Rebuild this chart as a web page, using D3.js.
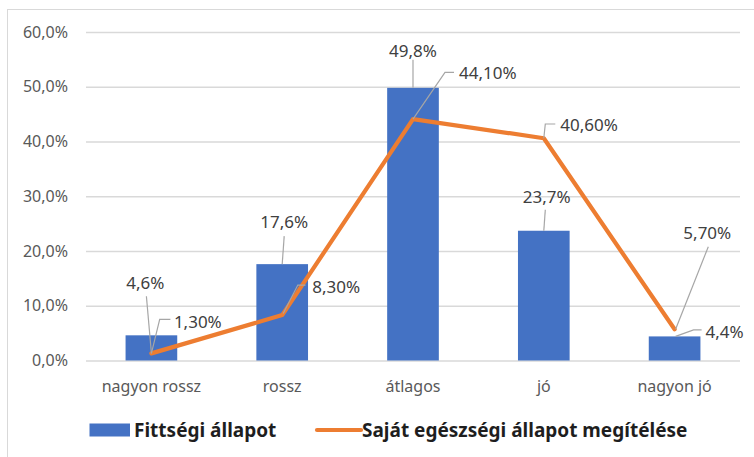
<!DOCTYPE html>
<html>
<head>
<meta charset="utf-8">
<script src="https://cdn.jsdelivr.net/npm/d3@7"></script>
<style>
  html, body { margin: 0; padding: 0; background: #fff; }
  svg { display: block; }
</style>
</head>
<body>
<svg id="chart" width="754" height="457"></svg>
<script>
// ---- data ----
const categories = ["nagyon rossz", "rossz", "átlagos", "jó", "nagyon jó"];
const barName = "Fittségi állapot";
const lineName = "Saját egészségi állapot megítélése";
const barValues = [4.6, 17.6, 49.8, 23.7, 4.4];
const lineValues = [1.3, 8.3, 44.1, 40.6, 5.7];
const barLabels = ["4,6%", "17,6%", "49,8%", "23,7%", "4,4%"];
const lineLabels = ["1,30%", "8,30%", "44,10%", "40,60%", "5,70%"];
const yTicks = [0, 10, 20, 30, 40, 50, 60];

// ---- label placement (offsets from the data point, pixels) ----
const barLabelPos = [
  { dx: -6, dy: -52, anchor: "middle", leader: [[-5, -39], [0, 18]] },
  { dx: 2, dy: -42, anchor: "middle", leader: [[2, -28], [0, 0]] },
  { dx: 0, dy: -37, anchor: "middle", leader: [[0, -28], [0, 0]] },
  { dx: 3, dy: -34, anchor: "middle", leader: [[1.5, -21], [0, 0]] },
  { dx: 31, dy: -4.5, anchor: "start", leader: [[27, -6.5], [19, -6.5], [1, 0]] }
];
const lineLabelPos = [
  { dx: 22.5, dy: -31.5, anchor: "start", leader: [[19, -34], [8.3, -34], [0, 0]] },
  { dx: 30, dy: -28.5, anchor: "start", leader: [[23.3, -30], [15.6, -30], [1, -1.5]] },
  { dx: 46, dy: -45.7, anchor: "start", leader: [[41, -46.7], [32, -46.7], [0, 0]] },
  { dx: 16.5, dy: -13.2, anchor: "start", leader: [[11.5, -14.2], [1.5, -14.2], [0, 0]] },
  { dx: 32.7, dy: -96.3, anchor: "middle", leader: [[33.7, -82.6], [1, 0]] }
];

const svg = d3.select("#chart");

// outer frame
svg.append("rect").attr("x", 7.5).attr("y", 9.5).attr("width", 760).attr("height", 460)
  .attr("fill", "#fff").attr("stroke", "#d9d9d9").attr("stroke-width", 1);

const x = d3.scaleBand().domain(categories).range([86, 740]).paddingInner(0.605).paddingOuter(0.3025);
const y = d3.scaleLinear().domain([0, 60]).range([360.5, 32]);

const font = "'Noto Sans', 'Open Sans', sans-serif";

// gridlines + y labels
const yAxis = d3.axisLeft(y).tickValues(yTicks).tickSize(-(740 - 86)).tickPadding(18)
  .tickFormat(d => d.toFixed(1).replace(".", ",") + "%");
const gy = svg.append("g").attr("transform", "translate(86,0)").call(yAxis);
gy.select(".domain").remove();
gy.selectAll(".tick line").attr("stroke", "#d9d9d9").attr("stroke-width", 1.3);
gy.selectAll(".tick text").attr("fill", "#595959").attr("font-family", font).attr("font-size", 16);

// x axis labels
const xAxis = d3.axisBottom(x).tickSize(0).tickPadding(0);
const gx = svg.append("g").attr("transform", "translate(0,375)").call(xAxis);
gx.select(".domain").remove();
gx.selectAll(".tick text").attr("fill", "#595959").attr("font-family", font).attr("font-size", 16)
  .attr("dy", "0.35em").attr("y", 11);

// bars
const cx = c => x(c) + x.bandwidth() / 2;
svg.append("g").selectAll("rect").data(barValues).join("rect")
  .attr("x", (d, i) => x(categories[i]))
  .attr("width", x.bandwidth())
  .attr("y", d => y(d))
  .attr("height", d => y(0) - y(d))
  .attr("fill", "#4472c4");

// line
const line = d3.line().x((d, i) => cx(categories[i])).y(d => y(d));
svg.append("path").datum(lineValues).attr("d", line)
  .attr("fill", "none").attr("stroke", "#ed7d31").attr("stroke-width", 4.2)
  .attr("stroke-linejoin", "round").attr("stroke-linecap", "round");

// data labels with leader lines
function drawLabels(values, texts, pos) {
  const g = svg.append("g");
  values.forEach((v, i) => {
    const px = cx(categories[i]), py = y(v), p = pos[i];
    g.append("polyline")
      .attr("points", p.leader.map(([dx, dy]) => (px + dx) + "," + (py + dy)).join(" "))
      .attr("fill", "none").attr("stroke", "#a6a6a6").attr("stroke-width", 1.2);
    g.append("text").attr("x", px + p.dx).attr("y", py + p.dy).attr("dy", "0.35em")
      .attr("text-anchor", p.anchor).attr("fill", "#404040")
      .attr("font-family", font).attr("font-size", 17).text(texts[i]);
  });
}
drawLabels(barValues, barLabels, barLabelPos);
drawLabels(lineValues, lineLabels, lineLabelPos);

// legend
const lg = svg.append("g");
lg.append("rect").attr("x", 89.5).attr("y", 423.5).attr("width", 40.5).attr("height", 13).attr("fill", "#4472c4");
lg.append("text").attr("x", 134).attr("y", 430).attr("dy", "0.35em")
  .attr("font-family", font).attr("font-weight", "bold").attr("font-size", 19).attr("fill", "#1e1e1e").text(barName);
lg.append("line").attr("x1", 317).attr("x2", 361).attr("y1", 430).attr("y2", 430)
  .attr("stroke", "#ed7d31").attr("stroke-width", 4.2).attr("stroke-linecap", "round");
lg.append("text").attr("x", 362).attr("y", 430).attr("dy", "0.35em")
  .attr("font-family", font).attr("font-weight", "bold").attr("font-size", 19).attr("fill", "#1e1e1e").text(lineName);
</script>
</body>
</html>
